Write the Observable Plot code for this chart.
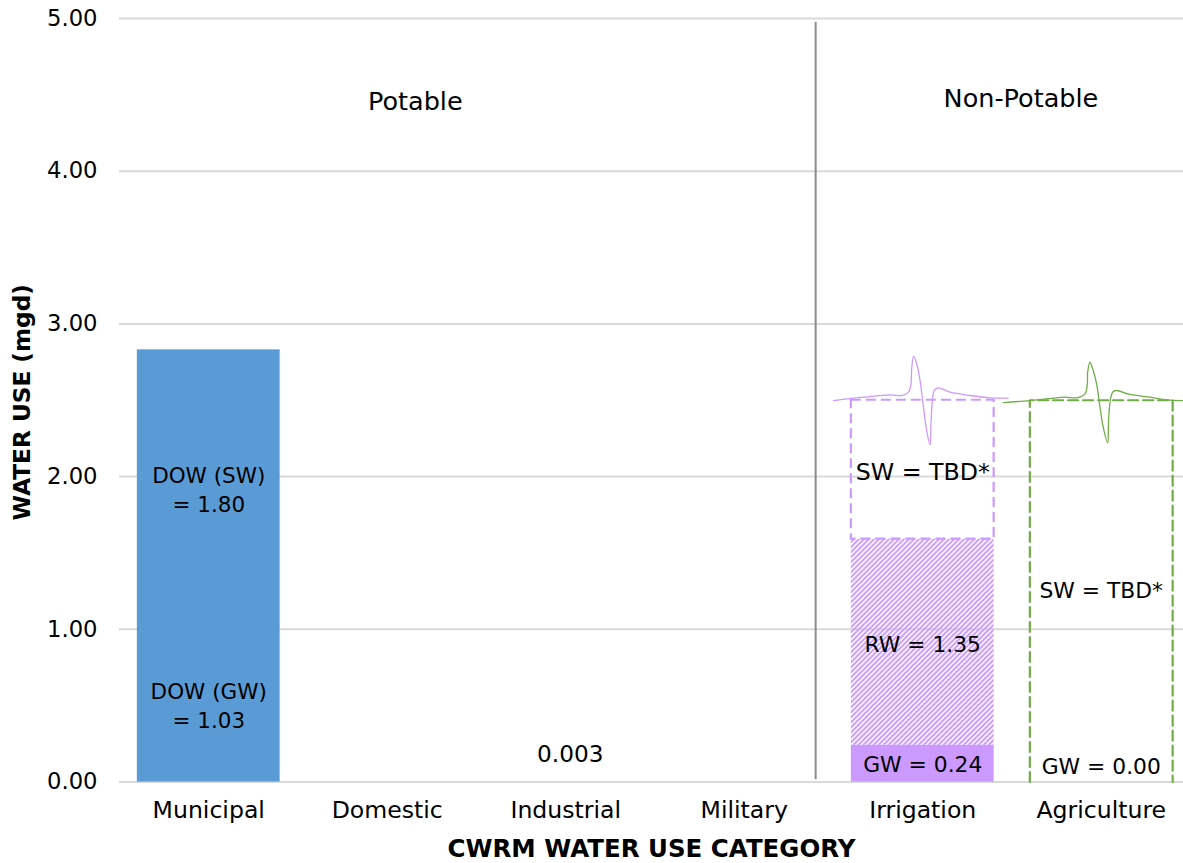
<!DOCTYPE html>
<html>
<head>
<meta charset="utf-8">
<script src="https://cdn.jsdelivr.net/npm/d3@7"></script>
<script src="https://cdn.jsdelivr.net/npm/@observablehq/plot@0.6"></script>
<style>
html,body{margin:0;padding:0;background:#fff;overflow:hidden}
svg{display:block}
</style>
</head>
<body>
<div id="chart"></div>
<script>
const categories = ["Municipal","Domestic","Industrial","Military","Irrigation","Agriculture"];
const yTicks = [0,1,2,3,4,5];
const tickPositions = categories.map((d,i)=>i+0.5);

const municipalGW = 1.03, municipalSW = 1.80;
const municipalBars = [{x1:0.1,x2:0.9,y1:0,y2:municipalGW+municipalSW}];
const irrigationGW = [{x1:4.1,x2:4.9,y1:0,y2:0.24}];
const irrigationRW = [{x1:4.1,x2:4.9,y1:0.24,y2:1.59}];
const irrigationSW = [{x1:4.1,x2:4.9,y1:1.59,y2:2.5}];
const agricultureSW = [{x:5.1,y:0},{x:5.1,y:2.5},{x:5.9,y:2.5},{x:5.9,y:0}];

const breakXA = [4.000,4.168,4.317,4.382,4.420,4.434,4.438,4.449,4.466,4.485,4.504,4.522,4.541,4.546,4.554,4.565,4.588,4.653,4.765,4.877,4.979];
const breakYA = [2.498,2.520,2.535,2.531,2.553,2.607,2.706,2.789,2.739,2.629,2.455,2.302,2.208,2.345,2.498,2.564,2.581,2.553,2.531,2.516,2.514];
const breakXB = [4.951,5.101,5.194,5.297,5.362,5.409,5.422,5.424,5.437,5.455,5.474,5.493,5.511,5.536,5.541,5.552,5.567,5.586,5.661,5.773,5.866,5.957,6];
const breakYB = [2.485,2.498,2.509,2.520,2.516,2.542,2.607,2.684,2.749,2.695,2.607,2.455,2.324,2.221,2.367,2.509,2.557,2.564,2.538,2.520,2.503,2.498,2.498];

const headerLabels = [
  {x:1.657,y:4.456,t:"Potable"},
  {x:5.05,y:4.475,t:"Non-Potable"}
];
const dowLabels = [
  {x:0.5,y:1.926,t:"DOW (SW)\n= 1.80"},
  {x:0.5,y:0.51,t:"DOW (GW)\n= 1.03"}
];
const valueLabel = [{x:2.525,y:0.18,t:"0.003"}];
const wideTbd = [{x:4.5,y:2.027,t:"SW = TBD*"}];
const innerLabels = [
  {x:5.5,y:1.248,t:"SW = TBD*"},
  {x:4.5,y:0.90,t:"RW = 1.35"},
  {x:4.5,y:0.108,t:"GW = 0.24"},
  {x:5.5,y:0.095,t:"GW = 0.00"}
];

const blue="#5b9bd5", purple="#cc9aff", green="#70ad47", grid="#d9d9d9";
const txt={x:"x",y:"y",text:"t",fill:"#000"};

const chart = Plot.plot({
  width:1183, height:863,
  marginLeft:119, marginRight:0, marginTop:18, marginBottom:81.5,
  style:{fontFamily:"'DejaVu Sans'",fontSize:"22px",color:"#000",background:"#fff"},
  x:{type:"linear",domain:[0,6],range:[119,1190]},
  y:{domain:[0,5]},
  marks:[
    Plot.ruleY(yTicks,{stroke:grid,strokeWidth:2,strokeOpacity:1}),
    Plot.axisY(yTicks,{tickSize:0,tickPadding:22,tickFormat:d=>d.toFixed(2),label:null,fontSize:22.7}),
    Plot.axisX(tickPositions,{tickSize:0,tickPadding:19,tickFormat:d=>categories[Math.floor(d)],label:null,fontSize:23.6}),
    Plot.rect(municipalBars,{x1:"x1",x2:"x2",y1:"y1",y2:"y2",fill:blue}),
    Plot.rect(irrigationRW,{x1:"x1",x2:"x2",y1:"y1",y2:"y2",fill:"url(#hatch)"}),
    Plot.rect(irrigationGW,{x1:"x1",x2:"x2",y1:"y1",y2:"y2",fill:purple}),
    Plot.rect(irrigationSW,{x1:"x1",x2:"x2",y1:"y1",y2:"y2",fill:"none",stroke:purple,strokeWidth:2.2,strokeDasharray:"10,5"}),
    Plot.line(agricultureSW,{x:"x",y:"y",stroke:green,strokeWidth:2.2,strokeDasharray:"10,5"}),
    Plot.ruleX([3.9],{y1:0.015,y2:4.975,stroke:"#8c8c8c",strokeWidth:2}),
    Plot.line(breakXA,{x:d=>d,y:(d,i)=>breakYA[i],stroke:purple,strokeWidth:1.3,curve:"catmull-rom"}),
    Plot.line(breakXB,{x:d=>d,y:(d,i)=>breakYB[i],stroke:green,strokeWidth:1.3,curve:"catmull-rom"}),
    Plot.text(headerLabels,{...txt,fontSize:25.5}),
    Plot.text(dowLabels,{...txt,fontSize:21.5,lineHeight:1.35}),
    Plot.text(valueLabel,{...txt,fontSize:23.2}),
    Plot.text(wideTbd,{...txt,fontSize:23.7}),
    Plot.text(innerLabels,{...txt,fontSize:21.8}),
    Plot.text(["WATER USE (mgd)"],{frameAnchor:"left",textAnchor:"middle",rotate:-90,dx:-97,dy:2,fontWeight:"bold",fontSize:23.2,fill:"#000"}),
    Plot.text(["CWRM WATER USE CATEGORY"],{frameAnchor:"bottom",dy:75,fontWeight:"bold",fontSize:24.5,fill:"#000"})
  ]
});
const ns="http://www.w3.org/2000/svg";
const defs=document.createElementNS(ns,"defs");
const pat=document.createElementNS(ns,"pattern");
pat.setAttribute("id","hatch");pat.setAttribute("patternUnits","userSpaceOnUse");
pat.setAttribute("width","3.54");pat.setAttribute("height","3.54");
pat.setAttribute("patternTransform","rotate(-45)");
const bar=document.createElementNS(ns,"rect");
bar.setAttribute("width","3.54");bar.setAttribute("height","2");bar.setAttribute("fill",purple);
pat.appendChild(bar);defs.appendChild(pat);chart.insertBefore(defs,chart.firstChild);
document.getElementById("chart").appendChild(chart);
</script>
</body>
</html>
